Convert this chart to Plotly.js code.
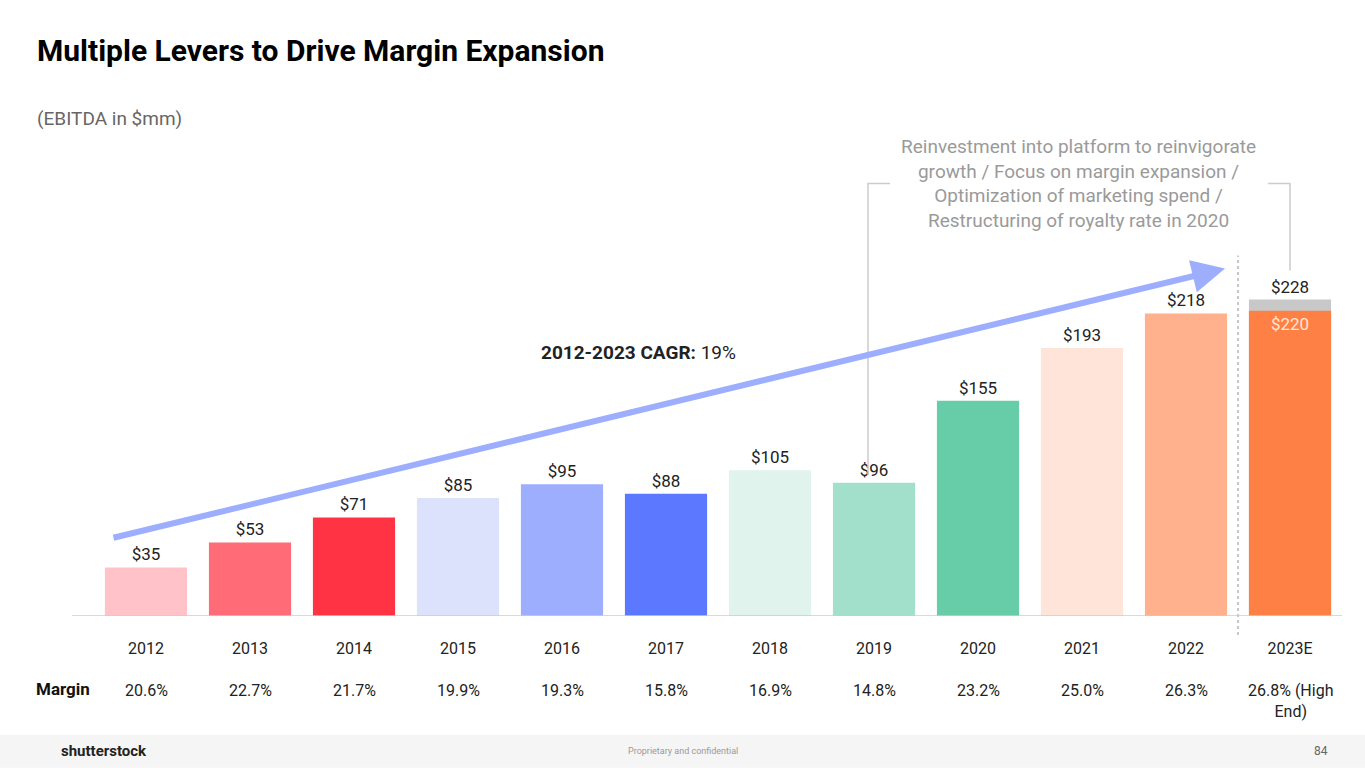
<!DOCTYPE html>
<html>
<head>
<meta charset="utf-8">
<script src="https://cdn.plot.ly/plotly-3.0.1.min.js"></script>
<style>html,body{margin:0;padding:0;background:#fff;}#chart{width:1365px;height:768px;}</style>
</head>
<body>
<div id="chart"></div>
<script>
// ---- data ----
const years = ['2012','2013','2014','2015','2016','2017','2018','2019','2020','2021','2022','2023E'];
const ebitda = [35, 53, 71, 85, 95, 88, 105, 96, 155, 193, 218, 220];
const highEnd = [null, null, null, null, null, null, null, null, null, null, null, 228];
const margins = ['20.6%','22.7%','21.7%','19.9%','19.3%','15.8%','16.9%','14.8%','23.2%','25.0%','26.3%','26.8% (High<br>End)'];
const barColors = ['#FFC2C9','#FF6B77','#FF3344','#DDE2FC','#9DAEFF','#5C78FF','#E0F3EC','#A3E0CB','#66CDA8','#FFE4DA','#FFB08C','#FF8045'];
const cagrText = '<b>2012-2023 CAGR:</b> 19%';
const noteText = 'Reinvestment into platform to reinvigorate<br>growth / Focus on margin expansion /<br>Optimization of marketing spend /<br>Restructuring of royalty rate in 2020';

// ---- geometry helpers (plot area: left 94, width 1248, bottom 616, height 347.5) ----
const L = 94, W = 1248, B = 616, H = 347.5;
const px = x => (x - L) / W;
const py = y => (B - y) / H;
const FONT = 'Roboto, "Noto Sans", Arial, sans-serif';

const traces = [
  {
    type: 'bar', x: years, y: highEnd,
    marker: {color: '#C8C8C8'},
    text: highEnd.map(v => v == null ? '' : '$' + v),
    textposition: 'outside',
    outsidetextfont: {family: FONT, size: 17, color: '#222'},
    cliponaxis: false, hoverinfo: 'skip'
  },
  {
    type: 'bar', x: years, y: ebitda,
    marker: {color: barColors},
    text: ebitda.map(v => '$' + v),
    textposition: ebitda.map((v, i) => highEnd[i] == null ? 'outside' : 'inside'),
    outsidetextfont: {family: FONT, size: 17, color: '#222'},
    insidetextfont: {family: FONT, size: 17, color: '#FFE6D6'},
    insidetextanchor: 'end',
    cliponaxis: false, hoverinfo: 'skip'
  }
];

const annotations = [
  {xref: 'paper', yref: 'paper', x: px(35), y: py(50), xanchor: 'left', yanchor: 'middle',
   text: '<b>Multiple Levers to Drive Margin Expansion</b>', showarrow: false,
   font: {family: FONT, size: 30, color: '#000'}},
  {xref: 'paper', yref: 'paper', x: px(35), y: py(118), xanchor: 'left', yanchor: 'middle',
   text: '(EBITDA in $mm)', showarrow: false, font: {family: FONT, size: 19, color: '#666'}},
  // CAGR arrow
  {xref: 'x', yref: 'y', axref: 'x', ayref: 'y', x: 10.375, y: 250.4, ax: -0.327, ay: 56.1,
   showarrow: true, arrowhead: 2, arrowsize: 1.1, arrowwidth: 6, arrowcolor: '#9DAEFF', text: ''},
  {xref: 'paper', yref: 'paper', x: px(638), y: py(352), xanchor: 'center', yanchor: 'middle',
   text: cagrText, showarrow: false, font: {family: FONT, size: 19, color: '#222'}},
  {xref: 'paper', yref: 'paper', x: px(1078), y: py(183), xanchor: 'center', yanchor: 'middle',
   text: noteText, showarrow: false, font: {family: FONT, size: 19, color: '#9A9A9A'}, align: 'center'},
  {xref: 'paper', yref: 'paper', x: px(63), y: py(689), text: '<b>Margin</b>', showarrow: false,
   xanchor: 'center', yanchor: 'middle', font: {family: FONT, size: 17, color: '#111'}},
  // footer texts
  {xref: 'paper', yref: 'paper', x: px(104), y: py(751), xanchor: 'center', yanchor: 'middle',
   text: '<b>shutterstock</b>', showarrow: false, font: {family: FONT, size: 15, color: '#222'}},
  {xref: 'paper', yref: 'paper', x: px(683), y: py(751), xanchor: 'center', yanchor: 'middle',
   text: 'Proprietary and confidential', showarrow: false, font: {family: FONT, size: 9, color: '#999'}},
  {xref: 'paper', yref: 'paper', x: px(1321), y: py(751), xanchor: 'center', yanchor: 'middle',
   text: '84', showarrow: false, font: {family: FONT, size: 12, color: '#666'}}
];
margins.forEach((m, i) => {
  annotations.push({xref: 'x', yref: 'paper', x: i, y: py(679), xanchor: 'center', yanchor: 'top',
    text: m, showarrow: false, align: 'center', font: {family: FONT, size: 16, color: '#222'}});
});

const shapes = [
  // footer band
  {type: 'rect', xref: 'paper', yref: 'paper', x0: px(0), x1: px(1365), y0: py(735), y1: py(768),
   fillcolor: '#F5F5F5', line: {width: 0}, layer: 'below'},
  // baseline
  {type: 'line', xref: 'paper', yref: 'y', x0: px(72), x1: px(1342), y0: 0, y1: 0,
   line: {color: '#CCCCCC', width: 1.5}},
  // dotted divider
  {type: 'line', xref: 'x', yref: 'paper', x0: 10.5, x1: 10.5, y0: py(635), y1: py(255),
   line: {color: '#C8C8C8', width: 2, dash: 'dot'}},
  // bracket (paper coords so it can extend above the plot area)
  {type: 'path', xref: 'paper', yref: 'paper',
   path: 'M ' + px(868) + ' ' + py(475) + ' L ' + px(868) + ' ' + py(183) + ' L ' + px(890) + ' ' + py(183),
   line: {color: '#CCCCCC', width: 1.5}},
  {type: 'path', xref: 'paper', yref: 'paper',
   path: 'M ' + px(1268) + ' ' + py(183) + ' L ' + px(1290) + ' ' + py(183) + ' L ' + px(1290) + ' ' + py(270),
   line: {color: '#CCCCCC', width: 1.5}}
];

const layout = {
  width: 1365, height: 768,
  margin: {l: L, r: 1365 - L - W, t: B - H, b: 768 - B, pad: 0},
  paper_bgcolor: '#fff', plot_bgcolor: '#fff',
  barmode: 'overlay', bargap: 0.21,
  showlegend: false,
  xaxis: {type: 'category', range: [-0.5, 11.5], showgrid: false, zeroline: false, showline: false,
    ticks: 'outside', ticklen: 18, tickcolor: 'rgba(0,0,0,0)',
    tickfont: {family: FONT, size: 16, color: '#222'}, fixedrange: true},
  yaxis: {range: [0, 250], visible: false, showgrid: false, zeroline: false, fixedrange: true},
  annotations: annotations,
  shapes: shapes,
  font: {family: FONT}
};

Plotly.newPlot('chart', traces, layout, {displayModeBar: false, staticPlot: true});
</script>
</body>
</html>
